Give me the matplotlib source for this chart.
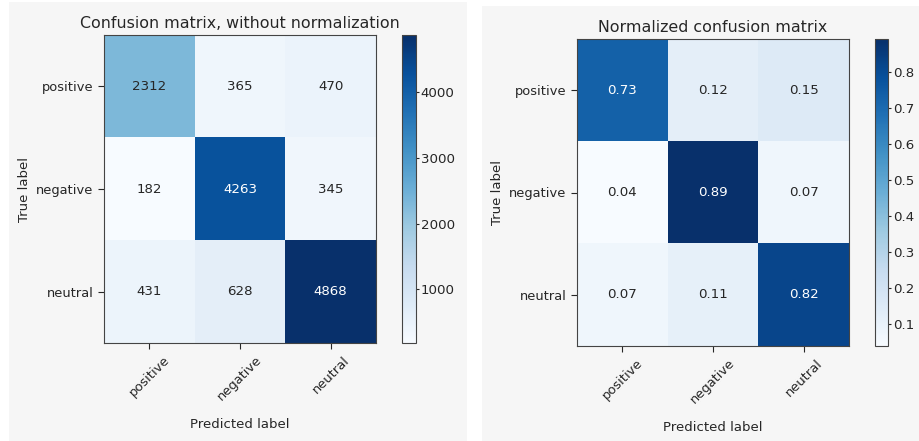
import matplotlib
matplotlib.use("Agg")
import matplotlib.pyplot as plt
from matplotlib.patches import Rectangle
import numpy as np

# ---------------------------------------------------------------------------
# Data
# ---------------------------------------------------------------------------
classes = ["positive", "negative", "neutral"]
counts = [
    [2312, 365, 470],
    [182, 4263, 345],
    [431, 628, 4868],
]
normalized = [
    [0.73, 0.12, 0.15],
    [0.04, 0.89, 0.07],
    [0.07, 0.11, 0.82],
]
count_ticks = [1000, 2000, 3000, 4000]
norm_ticks = [0.1, 0.2, 0.3, 0.4, 0.5, 0.6, 0.7, 0.8]

W, H = 920, 441
TXT = "#262626"


def fx(px):
    return px / W


def fy(py):
    return 1 - py / H


def draw_matrix(fig, rect, cbar_rect, cm, title, fmt, ticks):
    cm = np.array(cm, dtype=float)
    ax = fig.add_axes(rect)
    im = ax.imshow(cm, interpolation="nearest", cmap=plt.cm.Blues, aspect="auto")
    ax.set_title(title, fontsize=11.4, color=TXT, pad=5)

    marks = np.arange(len(classes))
    ax.set_xticks(marks)
    ax.set_xticklabels(classes, rotation=45)
    ax.set_yticks(marks)
    ax.set_yticklabels(classes)
    ax.tick_params(labelsize=9.4, colors=TXT, length=4)

    thresh = cm.max() / 2.0
    for i in range(cm.shape[0]):
        for j in range(cm.shape[1]):
            ax.text(j, i, format(cm[i, j], fmt), ha="center", va="center",
                    fontsize=9.6, color="white" if cm[i, j] > thresh else TXT)

    ax.set_ylabel("True label", fontsize=9.5, color=TXT)
    ax.set_xlabel("Predicted label", fontsize=9.5, color=TXT)
    ax.yaxis.set_label_coords(-0.27, 0.5)
    ax.xaxis.set_label_coords(0.5, -0.245)
    for sp in ax.spines.values():
        sp.set_color("#444444")

    cax = fig.add_axes(cbar_rect)
    cb = fig.colorbar(im, cax=cax, ticks=ticks)
    cb.ax.tick_params(labelsize=9.6, colors=TXT, length=2.5, pad=1)
    cb.outline.set_edgecolor("#444444")
    return ax


fig = plt.figure(figsize=(9.2, 4.41), dpi=100, facecolor="white")

# grey screenshot panels
fig.patches.append(Rectangle((fx(9), fy(441)), fx(467 - 9), (441 - 2) / H,
                             transform=fig.transFigure, facecolor="#f6f6f6",
                             edgecolor="none", zorder=-10))
fig.patches.append(Rectangle((fx(482), fy(441)), fx(920 - 482), (441 - 6) / H,
                             transform=fig.transFigure, facecolor="#f6f6f6",
                             edgecolor="none", zorder=-10))

draw_matrix(fig,
            [fx(104), fy(343), fx(272), 308 / H],
            [fx(402), fy(343), fx(14), 308 / H],
            counts, "Confusion matrix, without normalization", ".0f",
            count_ticks)
draw_matrix(fig,
            [fx(577), fy(346), fx(272), 307 / H],
            [fx(875), fy(346), fx(13), 307 / H],
            normalized, "Normalized confusion matrix", ".2f",
            norm_ticks)

fig.savefig("out.png", dpi=100, facecolor="white")
